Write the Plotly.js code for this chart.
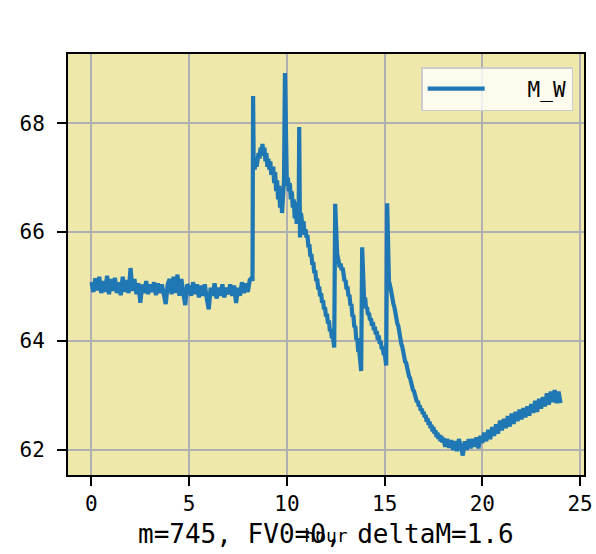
<!DOCTYPE html>
<html>
<head>
<meta charset="utf-8">
<script src="https://cdn.plot.ly/plotly-3.0.1.min.js"></script>
<style>html,body{margin:0;padding:0;background:#fff;}#chart{width:596px;height:554px;}</style>
</head>
<body>
<div id="chart"></div>
<script>
var seriesName = "\u00a0\u00a0\u00a0M_W";
var xLabel = "hour";
var captionText = "m=745, FV0=0, deltaM=1.6";
var xTicks = [0, 5, 10, 15, 20, 25];
var yTicks = [62, 64, 66, 68];

var hours = [
0.0,0.1,0.2,0.3,0.4,0.5,0.6,0.7,0.8,0.9,1.0,1.1,1.2,1.3,1.4,1.5,1.6,1.7,1.8,1.9,
2.0,2.1,2.2,2.3,2.4,2.5,2.6,2.7,2.8,2.9,3.0,3.1,3.2,3.3,3.4,3.5,3.6,3.7,3.8,3.9,
4.0,4.1,4.2,4.3,4.4,4.5,4.6,4.7,4.8,4.9,5.0,5.1,5.2,5.3,5.4,5.5,5.6,5.7,5.8,5.9,
6.0,6.1,6.2,6.3,6.4,6.5,6.6,6.7,6.8,6.9,7.0,7.1,7.2,7.3,7.4,7.5,7.6,7.7,7.8,7.9,
8.0,8.1,8.2,8.24,8.27,8.3,8.35,8.4,8.45,8.5,8.55,8.6,8.65,8.7,8.75,8.8,8.85,8.9,8.95,
9.0,9.05,9.1,9.15,9.2,9.3,9.35,9.4,9.45,9.5,9.55,9.6,9.65,9.7,9.75,9.8,9.85,9.9,9.95,
10.0,10.05,10.1,10.15,10.2,10.25,10.3,10.35,10.4,10.45,10.5,10.55,10.6,10.63,10.67,10.72,10.8,10.85,10.9,
10.95,11.0,11.05,11.1,11.15,11.2,11.25,11.3,11.35,11.4,11.45,11.5,11.55,11.6,11.65,11.7,11.75,11.8,11.85,11.9,11.95,
12.0,12.05,12.1,12.15,12.2,12.25,12.3,12.35,12.42,12.47,12.52,12.57,12.63,12.7,12.75,12.8,12.85,12.9,12.95,
13.0,13.05,13.1,13.15,13.2,13.25,13.3,13.35,13.4,13.45,13.5,13.55,13.6,13.65,13.7,13.75,13.8,13.85,13.9,13.95,
14.0,14.05,14.1,14.15,14.2,14.25,14.3,14.35,14.4,14.45,14.5,14.55,14.6,14.65,14.7,14.75,14.8,14.85,14.9,14.95,
15.0,15.08,15.13,15.18,15.22,15.3,15.35,15.4,15.45,15.5,15.55,15.6,15.65,15.7,15.75,15.8,15.85,15.9,15.95,
16.0,16.05,16.1,16.15,16.2,16.25,16.3,16.35,16.4,16.45,16.5,16.55,16.6,16.65,16.7,16.75,16.8,16.85,16.9,16.95,
17.0,17.05,17.1,17.15,17.2,17.25,17.3,17.35,17.4,17.45,17.5,17.55,17.6,17.65,17.7,17.75,17.8,17.85,17.9,17.95,
18.0,18.1,18.2,18.3,18.4,18.5,18.6,18.7,18.8,18.9,
19.0,19.1,19.2,19.3,19.4,19.5,19.6,19.7,19.8,19.9,
20.0,20.1,20.2,20.3,20.4,20.5,20.6,20.7,20.8,20.9,
21.0,21.1,21.2,21.3,21.4,21.5,21.6,21.7,21.8,21.9,
22.0,22.1,22.2,22.3,22.4,22.5,22.6,22.7,22.8,22.9,
23.0,23.1,23.2,23.3,23.4,23.5,23.6,23.7,23.8,23.9,24.0
];

var mw = [
65.08,64.9,65.15,64.93,65.18,64.88,65.1,64.9,65.2,64.86,65.14,64.92,65.16,64.88,65.08,64.84,65.18,64.9,65.12,64.88,
65.34,64.92,65.14,64.86,65.06,64.7,65.04,64.88,65.1,64.86,65.04,64.9,65.08,64.84,65.06,64.88,65.04,64.88,64.68,65.04,
65.14,64.86,65.18,64.88,65.22,64.83,65.14,64.88,64.66,65.04,64.98,64.83,65.08,64.86,65.04,64.8,65.02,64.83,65.04,64.78,
64.58,64.98,64.83,65.06,64.78,64.98,64.83,65.04,64.8,64.98,64.86,65.04,64.83,65.02,64.7,64.98,64.83,65.08,64.88,65.06,
64.9,65.12,65.16,65.1,68.5,67.25,67.15,67.35,67.2,67.3,67.45,67.35,67.55,67.45,67.62,67.4,67.55,67.3,67.45,
67.2,67.35,67.15,67.3,67.05,67.2,66.9,67.1,66.75,66.95,66.6,66.85,66.45,66.75,66.35,66.65,66.95,68.92,67.1,
66.85,67.0,66.75,66.9,66.6,66.75,66.45,66.6,66.25,66.55,66.15,66.4,66.2,67.93,65.9,66.35,66.1,66.2,65.95,
66.05,65.9,65.95,65.72,65.78,65.55,65.6,65.4,65.45,65.25,65.3,65.1,65.15,64.95,65.0,64.82,64.88,64.7,64.75,64.58,64.62,
64.45,64.5,64.32,64.38,64.18,64.22,64.05,64.1,63.88,66.52,65.8,65.6,65.5,65.35,65.42,65.3,65.35,65.2,65.1,
65.12,64.95,65.0,64.82,64.85,64.65,64.68,64.45,64.48,64.25,64.28,64.02,64.05,63.8,63.82,63.58,63.45,65.72,65.0,64.75,
64.8,64.6,64.62,64.48,64.52,64.38,64.42,64.28,64.35,64.2,64.26,64.12,64.18,64.02,64.1,63.95,64.0,63.85,63.9,63.75,
63.78,63.55,66.53,65.4,65.1,64.98,64.85,64.82,64.68,64.62,64.5,64.45,64.32,64.28,64.12,64.08,63.95,63.9,63.78,
63.75,63.62,63.6,63.48,63.45,63.35,63.32,63.22,63.2,63.1,63.08,62.98,62.98,62.88,62.9,62.8,62.82,62.72,62.76,62.66,
62.7,62.6,62.64,62.52,62.58,62.46,62.52,62.4,62.46,62.34,62.42,62.3,62.36,62.24,62.32,62.2,62.28,62.16,62.26,62.14,
62.22,62.06,62.2,62.04,62.18,62.0,62.16,61.98,62.2,62.03,
61.9,62.16,62.0,62.2,62.03,62.2,62.06,62.23,62.03,62.26,
62.13,62.32,62.16,62.37,62.2,62.42,62.26,62.47,62.3,62.54,
62.36,62.57,62.4,62.62,62.43,62.67,62.48,62.7,62.53,62.74,
62.56,62.77,62.6,62.8,62.63,62.84,62.68,62.9,62.7,62.94,
62.76,62.97,62.8,63.04,62.83,63.07,62.88,63.1,62.86,63.07,62.86
];

var mono = "DejaVu Sans Mono, monospace";

var trace = {
  x: hours,
  y: mw,
  type: "scatter",
  mode: "lines",
  name: seriesName,
  line: {color: "#1f77b4", width: 4.2}
};

var axisCommon = {
  showline: true,
  linecolor: "#000",
  linewidth: 2,
  mirror: true,
  ticks: "outside",
  ticklen: 9,
  tickwidth: 2,
  tickcolor: "#000",
  showgrid: true,
  gridcolor: "#b0b0b0",
  gridwidth: 1.6,
  zeroline: false,
  tickfont: {family: mono, size: 21, color: "#000"}
};

var layout = {
  width: 596,
  height: 554,
  margin: {l: 68, r: 12, t: 54, b: 79},
  paper_bgcolor: "#ffffff",
  plot_bgcolor: "#EEE8AA",
  showlegend: true,
  legend: {
    x: 0.979, xanchor: "right",
    y: 0.969, yanchor: "top",
    bgcolor: "rgba(255,255,255,0.8)",
    bordercolor: "#cccccc",
    borderwidth: 1.5,
    font: {family: mono, size: 21, color: "#000"},
    itemwidth: 57
  },
  xaxis: Object.assign({}, axisCommon, {
    range: [-1.2, 25.2],
    tickmode: "array",
    tickvals: xTicks,
    ticktext: xTicks.map(String),
    ticklabelstandoff: 0,
    title: {text: xLabel, font: {family: mono, size: 18, color: "#000"}, standoff: 14}
  }),
  yaxis: Object.assign({}, axisCommon, {
    range: [61.54, 69.27],
    tickmode: "array",
    tickvals: yTicks,
    ticktext: yTicks.map(String),
    ticklabelstandoff: 8
  }),
  annotations: [{
    text: captionText,
    xref: "paper", yref: "paper",
    x: 0.5, y: -0.14,
    xanchor: "center", yanchor: "middle",
    showarrow: false,
    font: {family: mono, size: 26, color: "#000"}
  }]
};

Plotly.newPlot("chart", [trace], layout, {displayModeBar: false, responsive: false});
</script>
</body>
</html>
